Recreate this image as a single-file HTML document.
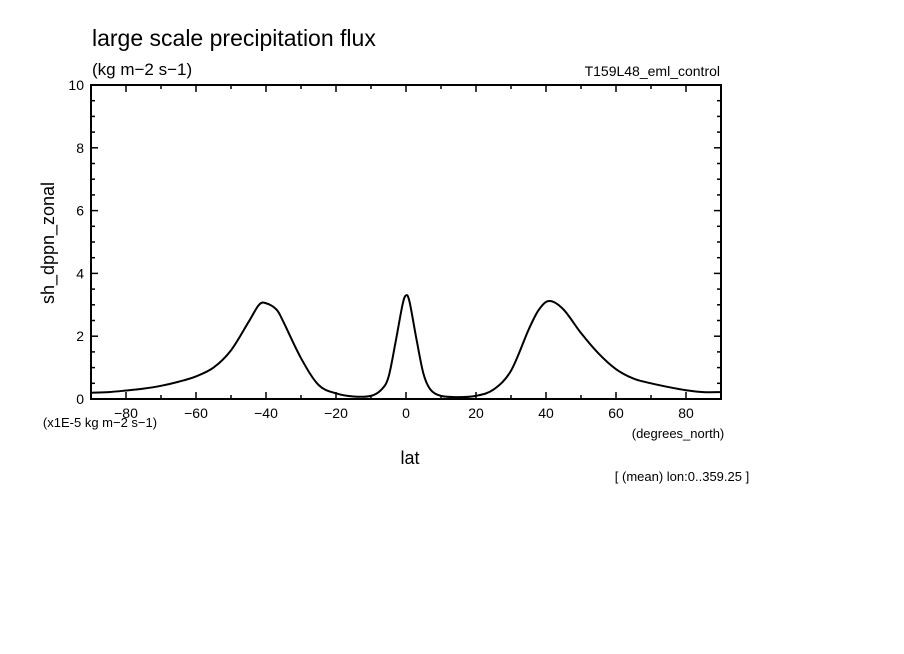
<!DOCTYPE html>
<html><head><meta charset="utf-8"><style>
body{margin:0;background:#fff;width:904px;height:654px;overflow:hidden}
svg{display:block}
text{font-family:"Liberation Sans",sans-serif;fill:#000}
</style></head><body>
<svg id="chart" width="904" height="654">
<text x="92" y="46" font-size="23">large scale precipitation flux</text>
<text x="92" y="75" font-size="17">(kg m−2 s−1)</text>
<text x="720" y="76" font-size="14" text-anchor="end">T159L48_eml_control</text>
<rect x="91" y="85" width="630" height="314" fill="none" stroke="#000" stroke-width="2"/>
<g id="ticks"></g>
<path id="curve" fill="none" stroke="#000" stroke-width="2"/>
<text x="410" y="464" font-size="18" text-anchor="middle">lat</text>
<text x="678" y="438" font-size="13" text-anchor="middle">(degrees_north)</text>
<text x="100" y="427" font-size="13" text-anchor="middle">(x1E-5 kg m−2 s−1)</text>
<text x="0" y="0" font-size="18" text-anchor="middle" transform="translate(54,243) rotate(-90)">sh_dppn_zonal</text>
<text x="682" y="481" font-size="13" text-anchor="middle">[ (mean) lon:0..359.25 ]</text>
</svg>
<script>
const lats=[-90,-85,-80,-75,-70,-65,-60,-55,-50,-45,-42,-40,-37,-35,-30,-25,-20,-15,-10,-7,-5,-3,-1,0,1,3,5,7,10,15,20,25,30,35,38,41,45,50,55,60,65,70,75,80,85,90];
const vals=[0.2,0.22,0.27,0.33,0.42,0.55,0.72,1.0,1.55,2.45,3.0,3.05,2.85,2.45,1.3,0.45,0.18,0.08,0.1,0.3,0.7,1.8,3.0,3.3,3.1,1.9,0.8,0.3,0.1,0.06,0.1,0.3,0.9,2.2,2.85,3.12,2.85,2.1,1.45,0.95,0.65,0.5,0.38,0.28,0.22,0.22];
const xTicks=[-80,-60,-40,-20,0,20,40,60,80];
const yTicks=[0,2,4,6,8,10];
const X0=91,X1=721,Y0=399,Y1=85;
const sx=v=>X0+(v+90)/180*(X1-X0);
const sy=v=>Y0-v/10*(Y0-Y1);
const svg=document.getElementById('chart'),g=document.getElementById('ticks');
const NS='http://www.w3.org/2000/svg';
function line(x1,y1,x2,y2){const l=document.createElementNS(NS,'line');l.setAttribute('x1',x1);l.setAttribute('y1',y1);l.setAttribute('x2',x2);l.setAttribute('y2',y2);l.setAttribute('stroke','#000');l.setAttribute('stroke-width','1.5');


g.appendChild(l);}
for(let v=-90;v<=90;v+=10){const x=sx(v),L=(v%20===0)?7:4;line(x,Y0,x,Y0-L);line(x,Y1,x,Y1+L);}
for(let v=0;v<=10;v+=0.5){const y=sy(v),L=(v%2===0)?7:4;line(X0,y,X0+L,y);line(X1,y,X1-L,y);}
xTicks.forEach(v=>{const t=document.createElementNS(NS,'text');t.setAttribute('x',sx(v));t.setAttribute('y',418);t.setAttribute('font-size','14');t.setAttribute('text-anchor','middle');t.textContent=(v<0?'−'+(-v):v);


svg.appendChild(t);});
yTicks.forEach(v=>{const t=document.createElementNS(NS,'text');t.setAttribute('x',84);t.setAttribute('y',sy(v)+5);t.setAttribute('font-size','14');t.setAttribute('text-anchor','end');t.textContent=v;


svg.appendChild(t);});
// smooth path via Catmull-Rom
const pts=lats.map((l,i)=>[sx(l),sy(vals[i])]);
let d='M'+pts[0][0]+','+pts[0][1];
for(let i=0;i<pts.length-1;i++){const p0=pts[i-1]||pts[i],p1=pts[i],p2=pts[i+1],p3=pts[i+2]||p2;
d+=' C'+(p1[0]+(p2[0]-p0[0])/6)+','+(p1[1]+(p2[1]-p0[1])/6)+' '+(p2[0]-(p3[0]-p1[0])/6)+','+(p2[1]-(p3[1]-p1[1])/6)+' '+p2[0]+','+p2[1];}
document.getElementById('curve').setAttribute('d',d);
</script>
</body></html>
